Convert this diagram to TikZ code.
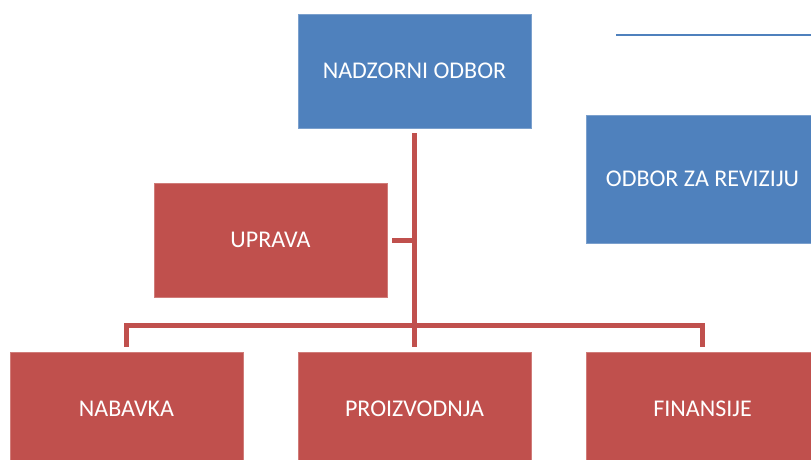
\documentclass[tikz,border=0pt]{standalone}
\usepackage{fontspec}
\setmainfont{Carlito}
\definecolor{boxblue}{HTML}{4F81BD}
\definecolor{boxred}{HTML}{C0504D}
\begin{document}
\begin{tikzpicture}[x=1pt,y=-1pt,
  box/.style={minimum width=233pt,minimum height=114pt,inner sep=0pt,text=white,font=\fontsize{24}{28}\selectfont},
  bluebox/.style={box,fill=boxblue,draw=boxblue!75!white,line width=0.6pt},
  redbox/.style={box,fill=boxred,draw=boxred!75!white,line width=0.6pt},
  conn/.style={draw=boxred,line width=5pt,line join=miter}]
\useasboundingbox (0,0) rectangle (811,459);
\begin{scope}
\clip (0,0) rectangle (811,459);
\node[bluebox] (nad) at (414.5,71) {NADZORNI ODBOR};
\node[bluebox,minimum height=128pt] (rev) at (702.5,179) {ODBOR ZA REVIZIJU};
\node[redbox] (upr) at (270.5,240) {UPRAVA};
\node[redbox] (nab) at (126.5,409) {NABAVKA};
\node[redbox] (pro) at (414.5,409) {PROIZVODNJA};
\node[redbox] (fin) at (702.5,409) {FINANSIJE};
\coordinate (bus) at (414.5,325);
\coordinate (bl1) at (616,35);
\coordinate (bl2) at (811,35);
\draw[conn] ([yshift=-5pt]nad.south) -- ([yshift=5pt]pro.north);
\draw[conn] ([yshift=5pt]nab.north) |- (bus) -| ([yshift=5pt]fin.north);
\draw[conn] ([xshift=5pt]upr.east) -- (upr.east -| nad.south);
\draw[boxblue,line width=2pt] (bl1) -- (bl2);
\end{scope}
\end{tikzpicture}
\end{document}
